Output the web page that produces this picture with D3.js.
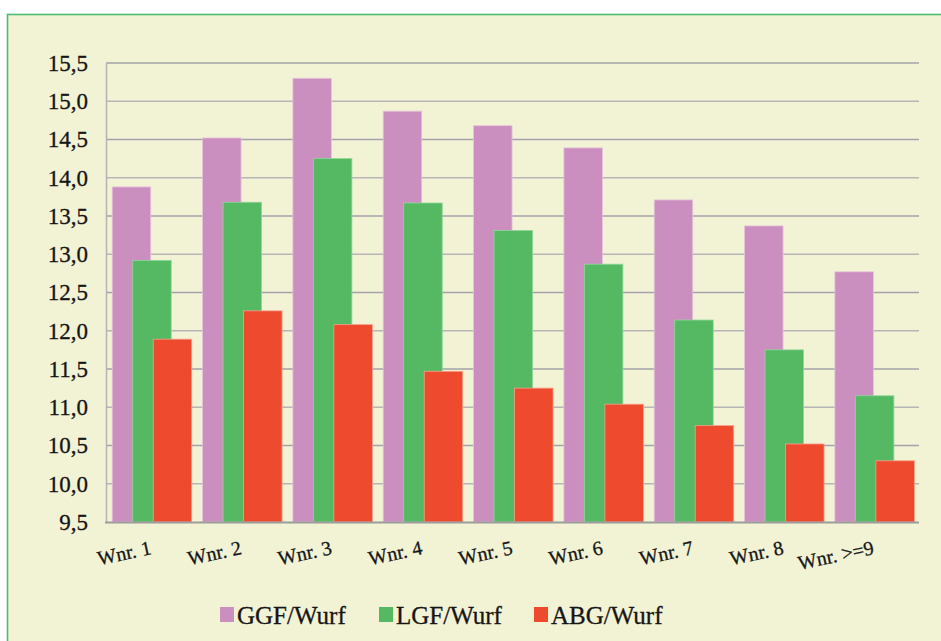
<!DOCTYPE html>
<html>
<head>
<meta charset="utf-8">
<script src="https://cdn.jsdelivr.net/npm/d3@7"></script>
<style>
  html, body { margin: 0; padding: 0; background: #ffffff; }
  svg { display: block; }
  svg text {
    font-family: "Liberation Serif", "Times New Roman", Times, "Nimbus Roman", "DejaVu Serif", serif;
    stroke: #161616; stroke-width: 0.3px;
  }
</style>
</head>
<body>
<svg id="chart" width="941" height="641"></svg>
<script>
// Würfe (litter number) categories
const categories = ["Wnr. 1", "Wnr. 2", "Wnr. 3", "Wnr. 4", "Wnr. 5", "Wnr. 6", "Wnr. 7", "Wnr. 8", "Wnr. >=9"];
// per-litter values
const ggf = [13.88, 14.52, 15.30, 14.87, 14.68, 14.39, 13.71, 13.37, 12.77];
const lgf = [12.92, 13.68, 14.25, 13.67, 13.31, 12.87, 12.14, 11.75, 11.15];
const abg = [11.89, 12.26, 12.08, 11.47, 11.25, 11.04, 10.76, 10.52, 10.30];
const yTicks = [9.5, 10.0, 10.5, 11.0, 11.5, 12.0, 12.5, 13.0, 13.5, 14.0, 14.5, 15.0, 15.5];
const seriesNames = ["GGF/Wurf", "LGF/Wurf", "ABG/Wurf"];
const seriesColors = ["#cb8fbf", "#54b962", "#ee4a2d"];
const seriesStrokes = ["#e6c2dc", "#8fd79a", "#f8a08c"];

const svg = d3.select("#chart");

// panel background with green frame
svg.append("rect")
  .attr("x", 7.5).attr("y", 14.5)
  .attr("width", 960).attr("height", 660)
  .attr("fill", "#f2f2d4")
  .attr("stroke", "#4dbb72").attr("stroke-width", 1.6);

const plot = { left: 106, right: 919, top: 63, bottom: 522 };

const x = d3.scaleBand()
  .domain(categories)
  .range([plot.left, plot.right])
  .paddingInner(0)
  .paddingOuter(0);

const y = d3.scaleLinear()
  .domain([9.5, 15.5])
  .range([plot.bottom, plot.top]);

// horizontal gridlines
svg.append("g")
  .selectAll("line")
  .data(yTicks.slice(1))
  .join("line")
  .attr("x1", plot.left).attr("x2", plot.right)
  .attr("y1", d => y(d)).attr("y2", d => y(d))
  .attr("stroke", (d, i) => i % 2 ? "#a2a2aa" : "#b6b6b6")
  .attr("stroke-width", 1.5);

// y axis labels
const yAxis = d3.axisLeft(y)
  .tickValues(yTicks)
  .tickSize(0)
  .tickPadding(18)
  .tickFormat(d => d3.format(".1f")(d).replace(".", ","));

const gy = svg.append("g")
  .attr("transform", `translate(${plot.left},0)`)
  .call(yAxis);
gy.attr("font-family", null);
gy.select(".domain").attr("stroke", "#b4b4b4").attr("stroke-width", 1.5);
gy.selectAll("text")
  .attr("font-size", 23)
  .attr("fill", "#161616");

// overlapping bars: each series shifted right within the group
const barW = 38.5;
const step = 20.5;
const groupW = barW + 2 * step;
const offset = (x.bandwidth() - groupW) / 2 + 0.8;

const seriesData = [ggf, lgf, abg];
seriesData.forEach((vals, s) => {
  svg.append("g")
    .selectAll("rect")
    .data(vals)
    .join("rect")
    .attr("x", (d, i) => x(categories[i]) + offset + s * step)
    .attr("y", d => y(d))
    .attr("width", barW)
    .attr("height", d => y(9.5) - y(d))
    .attr("fill", seriesColors[s])
    .attr("stroke", seriesStrokes[s])
    .attr("stroke-width", 0.8);
});

// bottom axis line
svg.append("line")
  .attr("x1", plot.left - 1).attr("x2", plot.right)
  .attr("y1", plot.bottom + 0.5).attr("y2", plot.bottom + 0.5)
  .attr("stroke", "#9c9c9c").attr("stroke-width", 2.2);

// rotated category labels
svg.append("g")
  .selectAll("text")
  .data(categories)
  .join("text")
  .attr("transform", d => `translate(${x(d) + x.bandwidth() / 2 + 1},554) rotate(-12)`)
  .attr("text-anchor", "end")
  .attr("font-size", 20)
  .attr("fill", "#161616")
  .text(d => d);

// legend
const legendX = [220, 379, 534];
const legend = svg.append("g");
seriesNames.forEach((name, i) => {
  legend.append("rect")
    .attr("x", legendX[i]).attr("y", 607)
    .attr("width", 14).attr("height", 15)
    .attr("fill", seriesColors[i]);
  legend.append("text")
    .attr("x", legendX[i] + 17).attr("y", 624)
    .attr("font-size", 25)
    .attr("fill", "#161616")
    .text(name);
});
</script>
</body>
</html>
